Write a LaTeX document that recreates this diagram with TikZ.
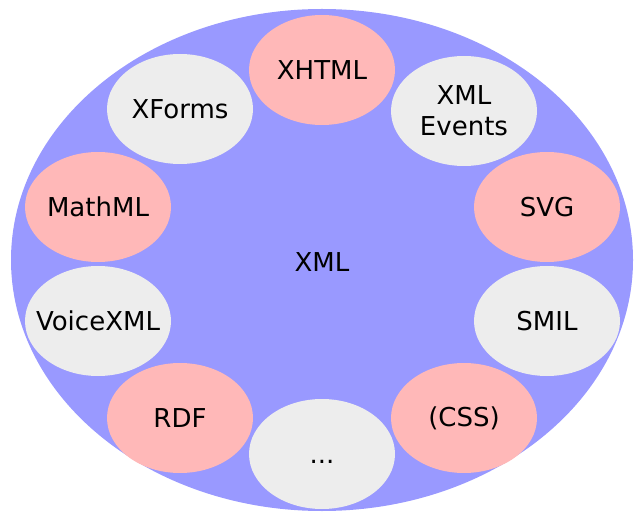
\documentclass[tikz,border=0pt]{standalone}
\usepackage{fontspec}
\setmainfont{DejaVu Sans}
\usetikzlibrary{shapes.geometric}
\definecolor{xmlblue}{HTML}{9999FF}
\definecolor{langpink}{HTML}{FFB8B8}
\definecolor{langgray}{HTML}{EDEDED}
\tikzset{
  langtext/.style={font=\fontsize{26}{31}\selectfont, align=center, inner sep=0pt},
  lang/.style={ellipse, minimum width=146pt, minimum height=110pt, inner sep=0pt},
  pinklang/.style={lang, fill=langpink},
  graylang/.style={lang, fill=langgray},
}
\begin{document}
\begin{tikzpicture}[x=1pt,y=-1pt]
  \useasboundingbox (0,0) rectangle (637,521);
  % outer XML ellipse
  \node[ellipse, fill=xmlblue, minimum width=622pt, minimum height=502pt, inner sep=0pt] (xmlbg) at (322,260) {};
  \node[langtext] (xml) at (322,262) {XML};
  % member languages around the rim (fixed-size ellipses, labels set on top)
  \node[pinklang] (xhtml)   at (322,70)  {};
  \node[graylang] (events)  at (464,111) {};
  \node[pinklang] (svg)     at (547,207) {};
  \node[graylang] (smil)    at (547,321) {};
  \node[pinklang] (css)     at (464,418) {};
  \node[graylang] (more)    at (322,454) {};
  \node[pinklang] (rdf)     at (180,418) {};
  \node[graylang] (voice)   at (98,321)  {};
  \node[pinklang] (mathml)  at (98,207)  {};
  \node[graylang] (xforms)  at (180,109) {};
  \node[langtext] (xhtmlT)  at (xhtml)  {XHTML};
  \node[langtext] (eventsT) at (events) {XML\\Events};
  \node[langtext] (svgT)    at (svg)    {SVG};
  \node[langtext] (smilT)   at (smil)   {SMIL};
  \node[langtext] (cssT)    at (css)    {(CSS)};
  \node[langtext] (moreT)   at ([yshift=-8pt]more) {...};
  \node[langtext] (rdfT)    at (rdf)    {RDF};
  \node[langtext] (voiceT)  at (voice)  {VoiceXML};
  \node[langtext] (mathmlT) at (mathml) {MathML};
  \node[langtext] (xformsT) at (xforms) {XForms};
\end{tikzpicture}
\end{document}
